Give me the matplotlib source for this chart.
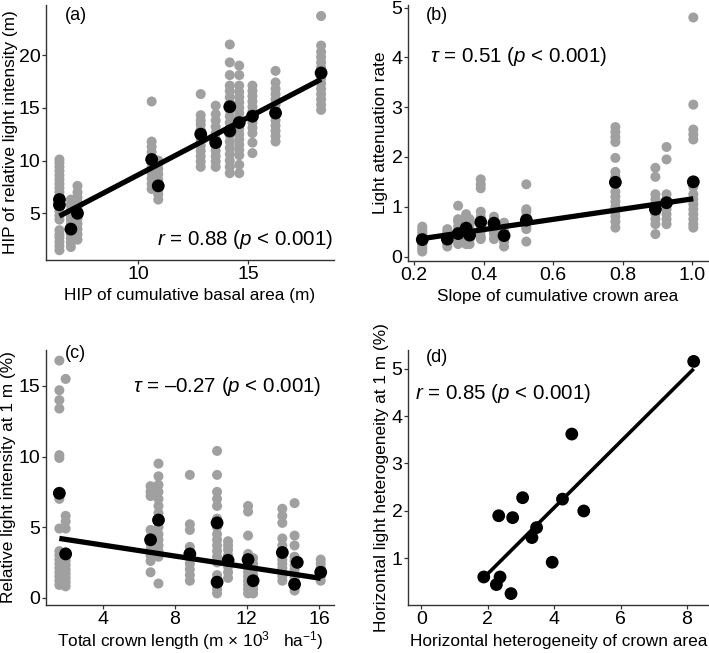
import numpy as np
import matplotlib
matplotlib.use('Agg')
import matplotlib.pyplot as plt

plt.rcParams['font.family'] = ['Liberation Sans', 'DejaVu Sans']
plt.rcParams['mathtext.fontset'] = 'custom'
plt.rcParams['mathtext.rm'] = 'Liberation Sans'
plt.rcParams['mathtext.it'] = 'Liberation Sans:italic'

# ── DATA ──────────────────────────────────────────────────────────
# (a) HIP of basal area vs HIP of light
a_cols = [6.43, 6.95, 7.25, 10.62, 10.92, 12.85, 13.53, 14.17, 14.6, 15.2, 16.25, 18.32]
a_gray = [
    [1.5, 1.9, 2.3, 2.7, 3.0, 3.4, 4.4, 4.8, 5.2, 5.6, 6.0, 6.6, 7.0, 7.4, 7.8, 8.2, 8.6, 9.0, 9.4, 9.8, 10.1],
    [1.8, 2.2, 2.6, 3.0, 3.6, 4.0, 4.4, 4.8, 5.3, 5.8, 6.3],
    [2.5, 3.0, 3.5, 4.0, 4.5, 5.0, 5.5, 6.0, 6.5, 7.0, 7.6],
    [7.3, 7.8, 8.3, 8.8, 9.3, 9.8, 10.3, 10.8, 11.3, 11.8, 15.6],
    [6.3, 6.8, 7.2, 7.7, 8.2, 8.7, 9.2, 9.7, 10.0],
    [9.4, 9.9, 10.4, 10.9, 11.4, 11.9, 12.4, 12.9, 13.4, 13.8, 14.3, 16.3],
    [9.4, 9.9, 10.4, 10.9, 11.4, 12.0, 12.6, 13.2, 13.8, 14.4, 15.2],
    [8.8, 9.4, 10.0, 10.6, 11.2, 11.8, 12.4, 13.0, 13.6, 14.2, 14.8, 15.4, 16.0, 16.6, 17.1, 18.1, 19.3, 21.0],
    [8.8, 9.6, 10.5, 11.0, 11.5, 12.0, 12.5, 13.0, 13.5, 14.0, 14.5, 15.0, 15.5, 16.0, 16.5, 17.1, 18.1, 19.0],
    [10.7, 11.7, 12.6, 13.1, 13.6, 14.1, 14.6, 15.1, 15.6, 16.1, 16.6, 17.1],
    [11.8, 12.3, 12.8, 13.3, 13.8, 14.3, 14.8, 15.3, 15.8, 16.3, 16.8, 17.4, 18.5],
    [14.8, 15.3, 15.8, 16.3, 16.8, 17.3, 17.8, 18.3, 18.8, 19.3, 19.8, 20.3, 20.9, 23.7],
]
a_mean_x = [6.43, 6.43, 6.95, 7.25, 10.62, 10.92, 12.85, 13.53, 14.17, 14.17, 14.6, 15.2, 16.25, 18.32]
a_mean_y = [6.3, 5.8, 3.5, 5.0, 10.1, 7.6, 12.5, 11.7, 15.1, 12.8, 13.6, 14.2, 14.5, 18.3]
a_fit = (-2.27, 1.09)   # intercept, slope

# (b) slope of crown area vs light attenuation
b_cols = [0.224, 0.296, 0.327, 0.35, 0.36, 0.392, 0.43, 0.459, 0.523, 0.779, 0.894, 0.926, 1.003]
b_gray = [
    [0.1, 0.15, 0.2, 0.25, 0.3, 0.35, 0.4, 0.45, 0.5, 0.55, 0.6],
    [0.2, 0.25, 0.3, 0.35, 0.4, 0.45, 0.5, 0.55],
    [0.25, 0.3, 0.4, 0.5, 0.6, 0.7, 0.75, 1.02],
    [0.25, 0.3, 0.4, 0.5, 0.6, 0.7, 0.8, 0.85],
    [0.25, 0.35, 0.45, 0.55, 0.65, 0.75],
    [0.35, 0.4, 0.5, 0.6, 0.7, 0.8, 0.9, 1.37, 1.45, 1.55],
    [0.35, 0.45, 0.5, 0.55, 0.6, 0.65, 0.7, 0.8],
    [0.2, 0.3, 0.4, 0.5, 0.6, 0.68],
    [0.3, 0.55, 0.6, 0.7, 0.8, 0.9, 0.95, 1.45],
    [0.58, 0.7, 0.8, 0.9, 1.0, 1.1, 1.2, 1.3, 1.45, 1.6, 1.7, 1.98, 2.3, 2.4, 2.5, 2.6],
    [0.45, 0.65, 0.75, 0.85, 0.95, 1.05, 1.15, 1.25, 1.6, 1.78],
    [0.65, 0.75, 0.85, 0.95, 1.05, 1.15, 1.25, 1.95, 2.2],
    [0.58, 0.65, 0.75, 0.85, 0.95, 1.05, 1.15, 1.25, 1.4, 2.35, 2.45, 2.55, 3.05, 4.8],
]
b_mean_x = [0.224, 0.296, 0.327, 0.35, 0.36, 0.392, 0.43, 0.459, 0.523, 0.779, 0.894, 0.926, 1.003]
b_mean_y = [0.34, 0.35, 0.46, 0.57, 0.43, 0.69, 0.67, 0.42, 0.73, 1.49, 0.95, 1.08, 1.5]
b_fit = (0.13, 1.027)

# (c) total crown length vs relative light at 1 m
c_cols = [1.6, 1.95, 6.66, 7.1, 8.84, 10.35, 10.96, 12.07, 12.35, 13.97, 14.65, 16.1]
c_gray = [
    [0.9, 1.2, 1.5, 1.8, 2.1, 2.4, 2.7, 3.0, 3.3, 4.9, 7.0, 9.9, 10.1, 13.4, 14.0, 14.7, 16.8],
    [0.8, 1.1, 1.4, 1.7, 2.0, 2.3, 2.6, 2.9, 3.2, 4.9, 5.4, 5.8, 15.5],
    [1.8, 2.6, 3.0, 3.4, 3.8, 4.3, 4.8, 7.2, 7.5, 7.9],
    [1.0, 2.9, 3.3, 3.7, 4.1, 4.5, 5.0, 5.6, 6.0, 6.5, 7.0, 7.5, 8.0, 8.6, 9.5],
    [1.2, 1.6, 2.0, 2.4, 2.8, 3.2, 3.6, 4.8, 5.2, 8.7],
    [0.3, 0.6, 0.9, 1.3, 1.6, 2.5, 2.9, 3.3, 3.7, 4.1, 4.5, 5.0, 5.6, 6.5, 7.0, 7.5, 8.7, 10.4],
    [1.4, 1.8, 2.2, 2.6, 3.0, 3.4, 3.7, 4.0],
    [0.3, 0.6, 0.9, 1.2, 1.5, 1.8, 2.1, 2.5, 2.8, 3.1, 4.4, 6.1, 6.5],
    [0.3, 0.6, 0.9, 1.2, 1.6, 2.0, 2.4, 2.8],
    [1.2, 1.5, 1.8, 2.1, 2.4, 2.7, 3.0, 3.3, 3.7, 4.2, 5.3, 5.8, 6.3],
    [0.5, 0.8, 1.1, 1.4, 1.7, 2.0, 2.3, 2.6, 2.9, 3.7, 4.4, 6.7],
    [1.2, 1.5, 1.8, 2.1, 2.4, 2.7],
]
c_mean_x = [1.6, 1.95, 6.66, 7.1, 8.84, 10.35, 10.35, 10.96, 12.07, 12.35, 13.97, 14.65, 14.8, 16.1]
c_mean_y = [7.4, 3.1, 4.1, 5.5, 3.1, 5.3, 1.1, 2.65, 2.7, 1.2, 3.2, 0.95, 2.5, 1.8]
c_fit = (4.51, -0.195)

# (d) horizontal heterogeneity
d_x = [8.2, 4.53, 3.05, 4.25, 4.89, 2.33, 2.75, 3.47, 3.33, 3.94, 1.88, 2.37, 2.26, 2.70]
d_y = [5.15, 3.62, 2.28, 2.25, 2.0, 1.9, 1.86, 1.65, 1.44, 0.92, 0.61, 0.61, 0.45, 0.26]
d_fit = (-0.714, 0.696)

GRAY = '#a0a0a0'
AXC = '#333333'
S_GRAY = 52
S_BLACK = 85

fig = plt.figure(figsize=(7.09, 6.53), dpi=100)
ax_a = fig.add_axes([0.0649, 0.6018, 0.406, 0.3905])
ax_b = fig.add_axes([0.5755, 0.6003, 0.423, 0.3920])
ax_c = fig.add_axes([0.0649, 0.0735, 0.406, 0.3905])
ax_d = fig.add_axes([0.5755, 0.0735, 0.424, 0.3905])


def style(ax):
    for s in ['top', 'right']:
        ax.spines[s].set_visible(False)
    for s in ['left', 'bottom']:
        ax.spines[s].set_color(AXC)
        ax.spines[s].set_linewidth(1.0)
    ax.tick_params(axis='both', length=3, width=0.9, color=AXC,
                   labelsize=14, labelcolor='black')
    ax.tick_params(axis='x', pad=1.5)
    ax.tick_params(axis='y', pad=1)


def columns(ax, cols, gray):
    for x, ys in zip(cols, gray):
        ax.scatter([x] * len(ys), ys, s=S_GRAY, color=GRAY, edgecolors='none', zorder=2)


def fit_line(ax, xs, fit, lw):
    xx = np.array([min(xs), max(xs)])
    ax.plot(xx, fit[0] + fit[1] * xx, color='black', lw=lw,
            solid_capstyle='butt', zorder=3)


# ── (a) ─────────────────────────────────────────────────────────
columns(ax_a, a_cols, a_gray)
fit_line(ax_a, a_cols, a_fit, 3.8)
ax_a.scatter(a_mean_x, a_mean_y, s=S_BLACK, color='black', edgecolors='none', zorder=4)
ax_a.set_xlim(5.82, 18.9)
ax_a.set_ylim(0.57, 24.74)
ax_a.set_xticks([10, 15])
ax_a.set_yticks([5, 10, 15, 20])
style(ax_a)
ax_a.set_xlabel('HIP of cumulative basal area (m)', fontsize=12.4, va='top')
ax_a.set_ylabel('HIP of relative light intensity (m)', fontsize=12.4)
ax_a.xaxis.set_label_coords(0.5, -0.11)
ax_a.yaxis.set_label_coords(-0.097, 0.5)
ax_a.text(0.104, 0.96, '(a)', transform=ax_a.transAxes, fontsize=13, ha='center', va='center')
ax_a.text(0.997, 0.082, r'$r$ = 0.88 ($p$ < 0.001)', transform=ax_a.transAxes,
          fontsize=14.8, ha='right', va='center')

# ── (b) ─────────────────────────────────────────────────────────
columns(ax_b, b_cols, b_gray)
fit_line(ax_b, b_cols, b_fit, 3.8)
ax_b.scatter(b_mean_x, b_mean_y, s=S_BLACK, color='black', edgecolors='none', zorder=4)
ax_b.set_xlim(0.183, 1.045)
ax_b.set_ylim(-0.09, 5.05)
ax_b.set_xticks([0.2, 0.4, 0.6, 0.8, 1.0])
ax_b.set_xticklabels(['0.2', '0.4', '0.6', '0.8', '1.0'])
ax_b.set_yticks([0, 1, 2, 3, 4, 5])
style(ax_b)
ax_b.set_xlabel('Slope of cumulative crown area', fontsize=12.4, va='top')
ax_b.set_ylabel('Light attenuation rate', fontsize=12.4)
ax_b.xaxis.set_label_coords(0.5, -0.11)
ax_b.yaxis.set_label_coords(-0.067, 0.5)
ax_b.text(0.096, 0.96, '(b)', transform=ax_b.transAxes, fontsize=13, ha='center', va='center')
ax_b.text(0.073, 0.80, r'$\tau$ = 0.51 ($p$ < 0.001)', transform=ax_b.transAxes,
          fontsize=14.8, ha='left', va='center')

# ── (c) ─────────────────────────────────────────────────────────
columns(ax_c, c_cols, c_gray)
fit_line(ax_c, c_cols, c_fit, 3.8)
ax_c.scatter(c_mean_x, c_mean_y, s=S_BLACK, color='black', edgecolors='none', zorder=4)
ax_c.set_xlim(0.86, 16.83)
ax_c.set_ylim(-0.52, 17.55)
ax_c.set_xticks([4, 8, 12, 16])
ax_c.set_yticks([0, 5, 10, 15])
style(ax_c)
ax_c.set_xlabel(r'Total crown length (m × 10$^{3}$   ha$^{-1}$)', fontsize=12.4, va='top')
ax_c.set_ylabel('Relative light intensity at 1 m (%)', fontsize=12.4)
ax_c.xaxis.set_label_coords(0.5, -0.093)
ax_c.yaxis.set_label_coords(-0.105, 0.5)
ax_c.text(0.065, 0.985, '(c)', transform=ax_c.transAxes, fontsize=13, ha='left', va='center')
ax_c.text(0.302, 0.855, r'$\tau$ = –0.27 ($p$ < 0.001)', transform=ax_c.transAxes,
          fontsize=14.8, ha='left', va='center')

# ── (d) ─────────────────────────────────────────────────────────
fit_line(ax_d, d_x, d_fit, 2.6)
ax_d.scatter(d_x, d_y, s=S_BLACK, color='black', edgecolors='none', zorder=4)
ax_d.set_xlim(-0.4, 8.65)
ax_d.set_ylim(0.02, 5.39)
ax_d.set_xticks([0, 2, 4, 6, 8])
ax_d.set_yticks([1, 2, 3, 4, 5])
style(ax_d)
ax_d.set_xlabel('Horizontal heterogeneity of crown area', fontsize=12.4, va='top')
ax_d.set_ylabel('Horizontal light heterogeneity at 1 m (%)', fontsize=12.4)
ax_d.xaxis.set_label_coords(0.5, -0.115)
ax_d.yaxis.set_label_coords(-0.063, 0.5)
ax_d.text(0.095, 0.97, '(d)', transform=ax_d.transAxes, fontsize=13, ha='center', va='center')
ax_d.text(0.023, 0.83, r'$r$ = 0.85 ($p$ < 0.001)', transform=ax_d.transAxes,
          fontsize=14.8, ha='left', va='center')

fig.savefig('out.png', dpi=100)
